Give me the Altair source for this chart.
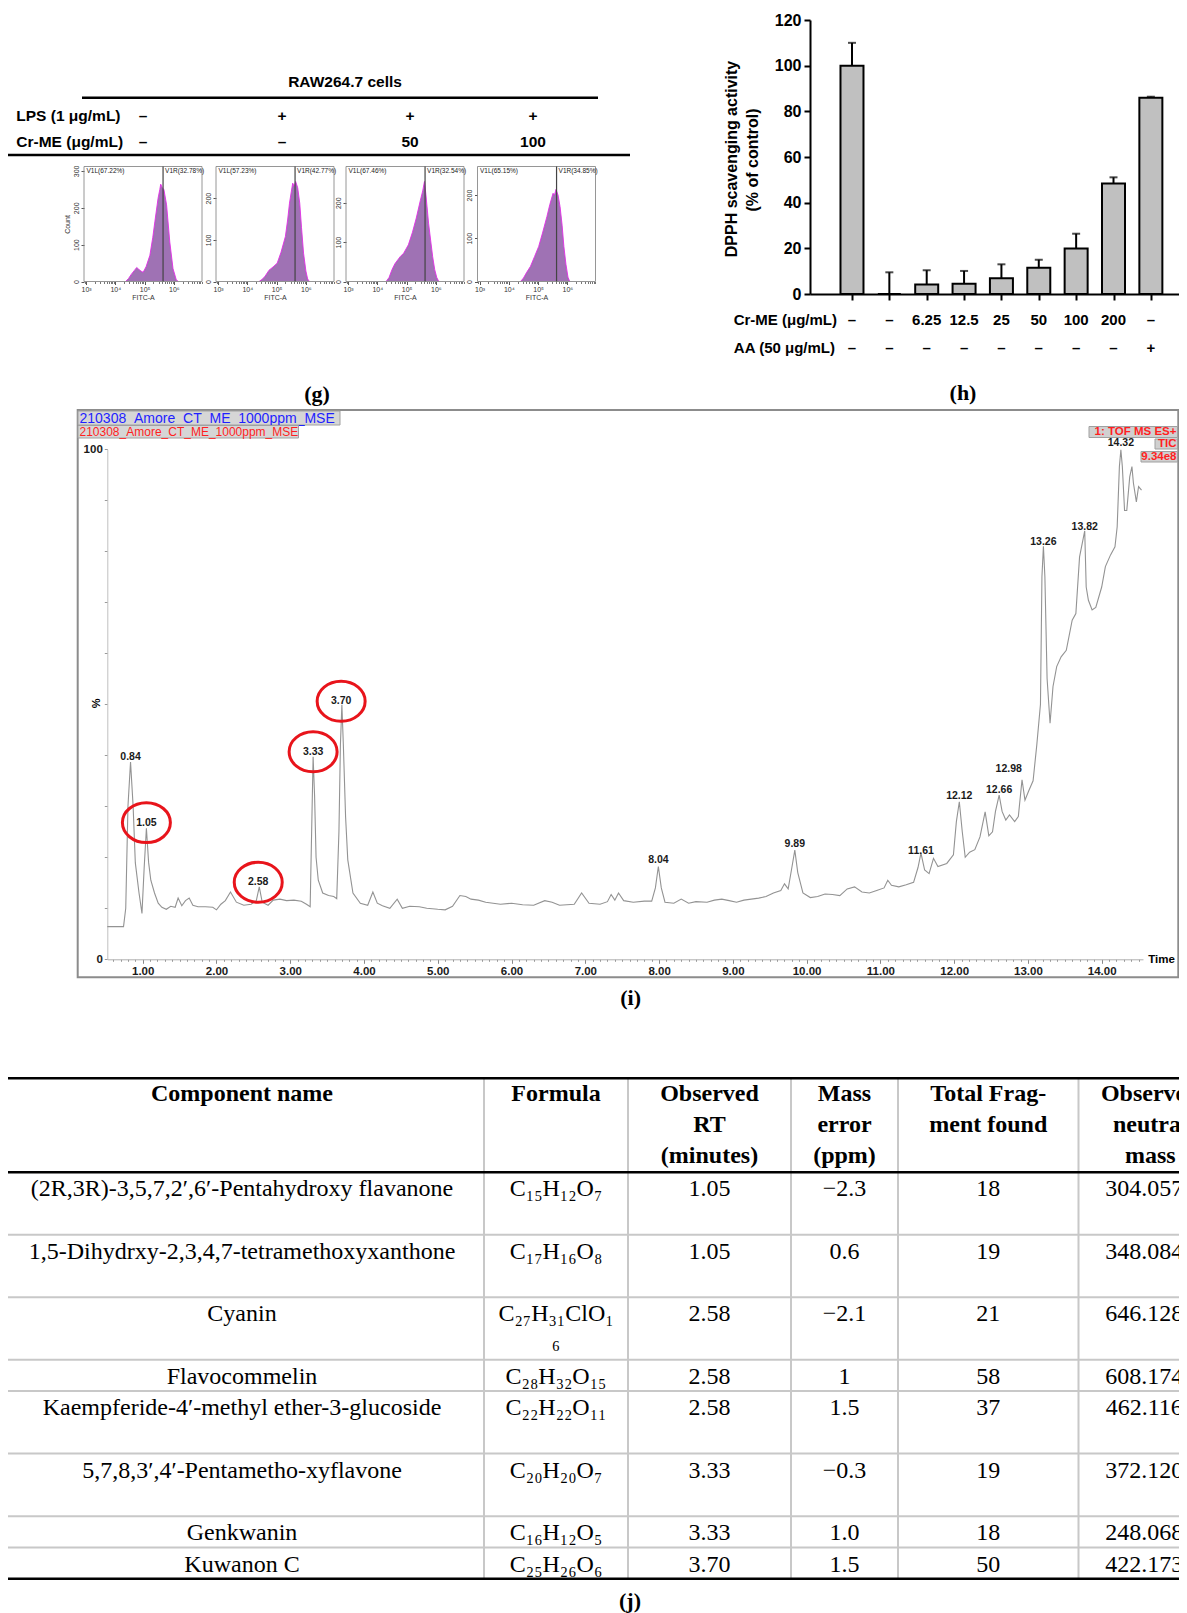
import altair as alt
import numpy as np
import pandas as pd

# ============================================================ DATA
# ---- (g) flow cytometry, RAW264.7 cells
g_header = "RAW264.7 cells"
g_lps_label = "LPS (1 μg/mL)"
g_crme_label = "Cr-ME (μg/mL)"
g_lps = ["–", "+", "+", "+"]
g_crme = ["–", "–", "50", "100"]
g_v1l = ["V1L(67.22%)", "V1L(57.23%)", "V1L(67.46%)", "V1L(65.15%)"]
g_v1r = ["V1R(32.78%)", "V1R(42.77%)", "V1R(32.54%)", "V1R(34.85%)"]
g_gate = 5.63  # log10 FITC-A
g1_log = [4.35, 4.45, 4.55, 4.65, 4.73, 4.80, 4.88, 4.95, 5.05, 5.18, 5.28,
          5.35, 5.46, 5.52, 5.55, 5.60, 5.66, 5.75, 5.86, 5.97, 6.08, 6.15]
g1_cnt = [0, 8, 20, 30, 38, 33, 28, 25, 40, 71, 120,
          162, 226, 250, 264, 255, 249, 208, 107, 35, 5, 0]
g2_log = [4.40, 4.50, 4.60, 4.74, 4.88, 5.02, 5.15, 5.30, 5.38, 5.44, 5.50,
          5.55, 5.60, 5.65, 5.72, 5.79, 5.85, 5.92, 6.00, 6.06, 6.12]
g2_cnt = [0, 5, 12, 27, 35, 44, 70, 108, 150, 188, 215,
          236, 228, 240, 225, 188, 130, 68, 25, 6, 0]
g3_log = [4.30, 4.40, 4.50, 4.60, 4.70, 4.78, 4.90, 5.06, 5.20, 5.33,
          5.47, 5.55, 5.61, 5.66, 5.75, 5.82, 5.89, 5.96, 6.03, 6.10]
g3_cnt = [0, 10, 30, 45, 55, 63, 72, 93, 125, 161,
          206, 230, 254, 220, 148, 105, 63, 30, 10, 0]
g4_log = [4.40, 4.50, 4.60, 4.74, 4.88, 5.02, 5.15, 5.30, 5.40, 5.51,
          5.56, 5.61, 5.68, 5.75, 5.82, 5.88, 5.95, 6.02, 6.08]
g4_cnt = [0, 8, 20, 35, 58, 81, 112, 150, 178, 204,
          200, 213, 200, 173, 130, 81, 40, 10, 0]
g_logs = [g1_log, g2_log, g3_log, g4_log]
g_cnts = [g1_cnt, g2_cnt, g3_cnt, g4_cnt]
g_ymax = [312, 276, 292, 266]
g_yticks = [[0, 100, 200, 300], [0, 100, 200], [0, 100, 200], [0, 100, 200]]

# ---- (h) DPPH scavenging activity
h_cr = ["–", "–", "6.25", "12.5", "25", "50", "100", "200", "–"]
h_aa = ["–", "–", "–", "–", "–", "–", "–", "–", "+"]
h_mean = [100.0, 0.0, 4.2, 4.5, 6.9, 11.5, 19.9, 48.4, 86.0]
h_sd = [10.0, 9.5, 6.2, 5.6, 6.1, 3.5, 6.5, 2.7, 0.4]
h_ytitle = ["DPPH scavenging activity", "(% of control)"]
h_row_titles = ["Cr-ME (μg/mL)", "AA (50 μg/mL)"]

# ---- (i) TIC chromatogram
i_time = [0.52, 0.74, 0.77, 0.80, 0.835, 0.87, 0.90, 0.95, 0.99, 1.02,
          1.05, 1.08, 1.11, 1.16, 1.21, 1.26, 1.32, 1.38, 1.44, 1.48,
          1.53, 1.58, 1.63, 1.68, 1.75, 1.85, 1.95, 2.00, 2.06, 2.12,
          2.19, 2.27, 2.37, 2.47, 2.54, 2.58, 2.62, 2.70, 2.77, 2.86,
          2.95, 3.05, 3.15, 3.22, 3.27, 3.29, 3.31, 3.33, 3.35, 3.38,
          3.44, 3.52, 3.59, 3.63, 3.66, 3.68, 3.70, 3.72, 3.75, 3.78,
          3.85, 3.95, 4.05, 4.12, 4.18, 4.25, 4.35, 4.45, 4.52, 4.62,
          4.75, 4.85, 5.00, 5.10, 5.20, 5.30, 5.38, 5.45, 5.55, 5.65,
          5.75, 5.85, 6.00, 6.15, 6.30, 6.45, 6.55, 6.65, 6.85, 6.95,
          7.05, 7.20, 7.30, 7.35, 7.40, 7.45, 7.52, 7.65, 7.80, 7.90,
          7.95, 7.99, 8.03, 8.08, 8.20, 8.30, 8.40, 8.50, 8.65, 8.75,
          8.85, 8.95, 9.05, 9.15, 9.25, 9.35, 9.45, 9.55, 9.65, 9.70,
          9.75, 9.80, 9.84, 9.88, 9.95, 10.05, 10.15, 10.25, 10.35, 10.45,
          10.55, 10.65, 10.75, 10.85, 10.95, 11.05, 11.10, 11.15, 11.25, 11.35,
          11.45, 11.51, 11.55, 11.60, 11.66, 11.72, 11.78, 11.90, 11.99, 12.03,
          12.07, 12.11, 12.15, 12.21, 12.28, 12.35, 12.42, 12.47, 12.52, 12.56,
          12.61, 12.65, 12.70, 12.75, 12.82, 12.87, 12.92, 12.96, 13.01, 13.07,
          13.12, 13.17, 13.19, 13.21, 13.23, 13.26, 13.30, 13.34, 13.39, 13.45,
          13.52, 13.60, 13.65, 13.70, 13.77, 13.79, 13.82, 13.87, 13.92, 14.00,
          14.05, 14.12, 14.18, 14.21, 14.24, 14.26, 14.28, 14.31, 14.34, 14.38,
          14.41, 14.43, 14.47, 14.50, 14.54]
i_pct = [6.4, 6.4, 10, 30, 38.7, 30, 18.9, 13, 9, 18,
         25.7, 19, 15.5, 13, 11, 10.2, 9.8, 10.4, 10.2, 12,
         10.5, 11.5, 12, 10.6, 10.3, 10.3, 10.2, 9.7, 10.8, 11.5,
         13.2, 11.2, 10.6, 10.8, 11.5, 14.2, 11.2, 10.6, 11.6, 11.8,
         11.5, 11.6, 11.4, 10.8, 10.3, 25, 39.7, 32, 20, 15.5,
         13, 12.5, 12.3, 11.9, 25, 42, 49.9, 42, 28, 19.5,
         13, 11, 10.6, 13.2, 11, 10.5, 10, 11.8, 10, 10.4,
         10.3, 10, 9.8, 9.7, 10.4, 12.5, 12.3, 11.8, 11.6, 11.2,
         11, 10.8, 11, 10.7, 10.6, 11.5, 11.2, 10.6, 10.8, 13,
         11, 10.8, 11.3, 12.7, 11.6, 13, 11.5, 11.2, 11.4, 11.4,
         14, 18.2, 14, 11.2, 11, 11.8, 11, 11.3, 11.2, 11.6,
         11.8, 11.5, 11.2, 11.6, 11.8, 12, 12.3, 13, 13.5, 14.8,
         13.8, 18, 21.4, 17, 13, 12.1, 12.3, 12.8, 12.7, 12.5,
         13.8, 14.2, 13.2, 13, 13.5, 14, 15.5, 14.5, 14.2, 14.6,
         15.1, 18, 20.8, 17.5, 16.8, 19.8, 18.2, 18.8, 20.5, 27,
         30.9, 25, 20, 21, 21.5, 24, 28.9, 24.2, 25, 29,
         32.2, 29, 27.3, 28.3, 27, 28, 35.2, 31.2, 33, 35,
         42, 50, 75, 81, 75, 55, 46.3, 53.5, 57.4, 59.3,
         60.6, 66.5, 67.8, 78.9, 84, 73, 70.4, 68.5, 69, 73,
         77, 79.3, 80.9, 84.8, 96.6, 99.9, 96.6, 88, 88, 94.6,
         96.6, 93.4, 89.7, 92.7, 92]
assert len(i_time) == len(i_pct)
i_peak_text = ["0.84", "1.05", "2.58", "3.33", "3.70", "8.04", "9.89", "11.61",
               "12.12", "12.66", "12.98", "13.26", "13.82", "14.32"]
i_peak_time = [0.835, 1.05, 2.566, 3.31, 3.69, 7.99, 9.84, 11.55,
               12.07, 12.61, 12.74, 13.21, 13.77, 14.26]
i_peak_pct = [39.6, 26.8, 15.1, 40.7, 50.6, 19.5, 22.6, 21.2,
              32.1, 33.1, 37.3, 81.9, 84.7, 101.2]
i_circled = ["1.05", "2.58", "3.33", "3.70"]
i_run = "210308_Amore_CT_ME_1000ppm_MSE"
i_info = ["1: TOF MS ES+", "TIC", "9.34e8"]

# ---- (j) table
t_header = [["Component name"], ["Formula"], ["Observed", "RT", "(minutes)"],
            ["Mass", "error", "(ppm)"], ["Total Frag-", "ment found"],
            ["Observed", "neutral", "mass"]]
t_name = ["(2R,3R)-3,5,7,2′,6′-Pentahydroxy flavanone",
          "1,5-Dihydrxy-2,3,4,7-tetramethoxyxanthone",
          "Cyanin", "Flavocommelin",
          "Kaempferide-4′-methyl ether-3-glucoside",
          "5,7,8,3′,4′-Pentametho-xyflavone", "Genkwanin", "Kuwanon C"]
t_formula = [["C₁₅H₁₂O₇"], ["C₁₇H₁₆O₈"], ["C₂₇H₃₁ClO₁", "₆"], ["C₂₈H₃₂O₁₅"],
             ["C₂₂H₂₂O₁₁"], ["C₂₀H₂₀O₇"], ["C₁₆H₁₂O₅"], ["C₂₅H₂₆O₆"]]
t_rt = ["1.05", "1.05", "2.58", "2.58", "2.58", "3.33", "3.33", "3.70"]
t_err = ["−2.3", "0.6", "−2.1", "1", "1.5", "−0.3", "1.0", "1.5"]
t_frag = ["18", "19", "21", "58", "37", "19", "18", "50"]
t_mass = ["304.0576", "348.0847", "646.1287", "608.1748", "462.1169",
          "372.1208", "248.0688", "422.1738"]
t_row_lines = [2, 2, 2, 1, 2, 2, 1, 1]

# ============================================================ LAYOUT
W, H = 1171, 1605
M = 8
SANS = "Liberation Sans"
SERIF = "Liberation Serif"


def X(p):
    return p - M


def Y(p):
    return p - M


ONE = pd.DataFrame({"k": [0]})


def ann(text, x, y, size, weight="normal", font=SANS, align="center",
        color="black", angle=0, baseline="middle"):
    return alt.Chart(ONE).mark_text(
        text=text, fontSize=size, fontWeight=weight, font=font, align=align,
        baseline=baseline, color=color, angle=angle
    ).encode(x=alt.value(X(x)), y=alt.value(Y(y)))


def hline(x1, x2, y, color="black", width=1.0):
    return alt.Chart(ONE).mark_rule(color=color, strokeWidth=width).encode(
        x=alt.value(X(x1)), x2=alt.value(X(x2)), y=alt.value(Y(y)))


def box(x1, y1, x2, y2, stroke="#888888", width=1.0, fill="transparent"):
    return alt.Chart(ONE).mark_rect(fill=fill, stroke=stroke, strokeWidth=width).encode(
        x=alt.value(X(x1)), x2=alt.value(X(x2)), y=alt.value(Y(y1)), y2=alt.value(Y(y2)))


layers = []

# ------------------------------------------------------------ (g) header
layers.append(ann(g_header, 345, 81.5, 15.5, "bold"))
layers.append(hline(82, 598, 97.7, width=2.5))
layers.append(ann(g_lps_label, 16.3, 116, 15.5, "bold", align="left"))
layers.append(ann(g_crme_label, 16.3, 141.7, 15.5, "bold", align="left"))
G_COLX = [143, 282, 410, 533]
for k in range(4):
    layers.append(ann(g_lps[k], G_COLX[k], 116, 15.5, "bold"))
    layers.append(ann(g_crme[k], G_COLX[k], 141.7, 15.5, "bold"))
layers.append(hline(6, 630, 155, width=2.5))

# ------------------------------------------------------------ (g) histograms
FLOW_LEFT = [84, 216, 346, 477.5]
FLOW_W = 118
FLOW_TOP, FLOW_BOT = 166.5, 281.5
LOG_DOM = [2.93, 6.96]
minor_log = [float(np.log10(k * 10.0 ** d)) for d in range(2, 7) for k in range(2, 10)]
minor_log = [v for v in minor_log if LOG_DOM[0] < v < LOG_DOM[1]]
sup = "datum.value == 3 ? '10³' : datum.value == 4 ? '10⁴' : datum.value == 5 ? '10⁵' : '10⁶'"

for i in range(4):
    L = FLOW_LEFT[i]
    R = L + FLOW_W
    xs = alt.Scale(domain=LOG_DOM, range=[X(L), X(R)], nice=False, zero=False)
    ys = alt.Scale(domain=[0, g_ymax[i]], range=[Y(FLOW_BOT), Y(FLOW_TOP)], nice=False)
    df = pd.DataFrame({"lx": g_logs[i], "c": g_cnts[i]})
    xa = alt.Axis(orient="bottom", offset=Y(FLOW_BOT) - H, values=[3, 4, 5, 6],
                  labelExpr=sup, labelFont=SANS, labelFontSize=7, labelColor="#333333",
                  tickSize=3, tickColor="#555555", domain=False, labelPadding=1,
                  title="FITC-A", titleFont=SANS, titleFontSize=7, titleFontWeight="normal",
                  titleColor="#333333", titlePadding=1)
    ykw = dict(orient="left", offset=-X(L), values=g_yticks[i], labelAngle=270,
               labelAlign="center", labelBaseline="bottom", labelFont=SANS,
               labelFontSize=7, labelColor="#333333", tickSize=3, tickColor="#555555",
               domain=False, labelPadding=2)
    if i == 0:
        ykw.update(title="Count", titleFont=SANS, titleFontSize=7, titleFontWeight="normal",
                   titleColor="#333333", titlePadding=2)
    else:
        ykw.update(title="")
    ya = alt.Axis(**ykw)
    area = alt.Chart(df).mark_area(color="#9f72b4", opacity=1).encode(
        x=alt.X("lx:Q", scale=xs, axis=xa), y=alt.Y("c:Q", scale=ys, axis=ya))
    outline = alt.Chart(df).mark_line(color="#e22de6", strokeWidth=0.9).encode(
        x=alt.X("lx:Q", scale=xs,
                axis=alt.Axis(orient="bottom", offset=Y(FLOW_BOT) - H, values=minor_log,
                              labels=False, tickSize=2, tickColor="#777777", domain=False,
                              title="")),
        y=alt.Y("c:Q", scale=ys, axis=None))
    frame = box(L, FLOW_TOP, R, FLOW_BOT, stroke="#8a8a8a", width=0.9)
    gdf = pd.DataFrame({"g": [g_gate], "t": [g_v1r[i]]})
    gate = alt.Chart(gdf).mark_rule(color="#444444", strokeWidth=1.2).encode(
        x=alt.X("g:Q", scale=xs, axis=None), y=alt.value(Y(FLOW_TOP)), y2=alt.value(Y(FLOW_BOT)))
    v1r = alt.Chart(gdf).mark_text(align="left", dx=2, fontSize=6.5, font=SANS,
                                   color="#222222", baseline="middle").encode(
        x=alt.X("g:Q", scale=xs, axis=None), y=alt.value(Y(170.5)), text="t:N")
    v1l = ann(g_v1l[i], L + 2.5, 170.5, 6.5, align="left", color="#222222")
    layers.append(alt.layer(area, outline, frame, gate, v1r, v1l)
                  .resolve_axis(x="independent", y="independent"))

layers.append(ann("(g)", 317, 394, 22, "bold", font=SERIF))

# ------------------------------------------------------------ (h) DPPH
dfh = pd.DataFrame({"i": list(range(9)), "cr": h_cr, "aa": h_aa, "m": h_mean, "sd": h_sd})
dfh["hi"] = dfh["m"] + dfh["sd"]
hx = alt.Scale(domain=[-0.99, 8.78], range=[X(810), X(1185)], nice=False, zero=False)
hy = alt.Scale(domain=[0, 120], range=[Y(294), Y(20)], nice=False)
h_bars = alt.Chart(dfh).mark_bar(size=23, fill="#c0c0c0", stroke="black", strokeWidth=2).encode(
    x=alt.X("i:Q", scale=hx,
            axis=alt.Axis(orient="bottom", offset=Y(294) - H, values=list(range(9)),
                          labels=False, tickSize=6, tickWidth=2, tickColor="black",
                          domainColor="black", domainWidth=2, title="")),
    y=alt.Y("m:Q", scale=hy,
            axis=alt.Axis(orient="left", offset=-X(810), values=[0, 20, 40, 60, 80, 100, 120],
                          tickSize=6, tickWidth=2, tickColor="black", domainColor="black",
                          domainWidth=2, labelFont=SANS, labelFontSize=16,
                          labelFontWeight="bold", labelColor="black", labelPadding=3,
                          title="")))
h_err = alt.Chart(dfh).mark_rule(color="black", strokeWidth=2).encode(
    x=alt.X("i:Q", scale=hx, axis=None), y=alt.Y("m:Q", scale=hy, axis=None), y2="hi:Q")
h_cap = alt.Chart(dfh).mark_tick(orient="horizontal", size=8, thickness=2, color="black").encode(
    x=alt.X("i:Q", scale=hx, axis=None), y=alt.Y("hi:Q", scale=hy, axis=None))
h_lab1 = alt.Chart(dfh).mark_text(fontSize=15, fontWeight="bold", font=SANS, baseline="middle").encode(
    x=alt.X("i:Q", scale=hx, axis=None), y=alt.value(Y(320)), text="cr:N")
h_lab2 = alt.Chart(dfh).mark_text(fontSize=15, fontWeight="bold", font=SANS, baseline="middle").encode(
    x=alt.X("i:Q", scale=hx, axis=None), y=alt.value(Y(348.3)), text="aa:N")
layers.append(alt.layer(h_bars, h_err, h_cap, h_lab1, h_lab2)
              .resolve_axis(x="independent", y="independent"))
layers.append(ann(h_row_titles[0], 837, 320, 15, "bold", align="right"))
layers.append(ann(h_row_titles[1], 835, 348.3, 15, "bold", align="right"))
layers.append(ann(h_ytitle[0], 732, 159, 16, "bold", angle=270))
layers.append(ann(h_ytitle[1], 753, 160, 16, "bold", angle=270))
layers.append(ann("(h)", 963, 393, 22, "bold", font=SERIF))

# ------------------------------------------------------------ (i) chromatogram
layers.append(box(77.7, 410, 1178.3, 977.3, stroke="#8c8c8c", width=2))
layers.append(box(78, 411, 340, 425, stroke="#a0a0a0", width=1, fill="#d6d6d6"))
layers.append(ann(i_run, 79.5, 418.5, 14, color="#1f1fff", align="left"))
layers.append(box(78, 425.5, 298.5, 438, stroke="#a0a0a0", width=1, fill="#d6d6d6"))
layers.append(ann(i_run, 79.5, 432, 12, color="#ff1f1f", align="left"))
layers.append(box(1089, 426.5, 1177.5, 437.5, stroke="#a0a0a0", width=1, fill="#d0d0d0"))
layers.append(ann(i_info[0], 1176.5, 432.3, 11.5, "bold", color="#ff1f1f", align="right"))
layers.append(box(1155, 439, 1177.5, 449, stroke="#a0a0a0", width=1, fill="#d0d0d0"))
layers.append(ann(i_info[1], 1176.5, 444.3, 11.5, "bold", color="#ff1f1f", align="right"))
layers.append(box(1141, 451.5, 1177.5, 462, stroke="#a0a0a0", width=1, fill="#d0d0d0"))
layers.append(ann(i_info[2], 1176.5, 457, 11.5, "bold", color="#ff1f1f", align="right"))

ix = alt.Scale(domain=[0.52, 14.56], range=[X(107.3), X(1143.0)], nice=False, zero=False)
iy = alt.Scale(domain=[0, 100], range=[Y(959.3), Y(449.3)], nice=False)
dft = pd.DataFrame({"t": i_time, "p": i_pct})
minor_t = [round(0.6 + 0.1 * k, 1) for k in range(140)]
minor_t = [v for v in minor_t if v <= 14.5 and abs(v - round(v)) > 1e-6]
i_trace = alt.Chart(dft).mark_line(color="#939393", strokeWidth=1.1).encode(
    x=alt.X("t:Q", scale=ix,
            axis=alt.Axis(orient="bottom", offset=Y(959.3) - H, values=list(range(1, 15)),
                          format=".2f", labelFont=SANS, labelFontSize=11.5,
                          labelFontWeight="bold", labelColor="#1a1a1a", tickSize=4,
                          tickColor="#8a8a8a", domainColor="#b0b0b0", labelPadding=2,
                          title="")),
    y=alt.Y("p:Q", scale=iy,
            axis=alt.Axis(orient="left", offset=-X(107.3), values=list(range(0, 101, 10)),
                          labelExpr="datum.value == 100 ? '100' : datum.value == 0 ? '0' : ''",
                          labelFont=SANS, labelFontSize=11.5, labelFontWeight="bold",
                          labelColor="#1a1a1a", tickSize=3, tickColor="#9a9a9a",
                          domainColor="#c0c0c0", labelPadding=2, title="")))
i_minor = alt.Chart(dft).mark_line(opacity=0).encode(
    x=alt.X("t:Q", scale=ix,
            axis=alt.Axis(orient="bottom", offset=Y(959.3) - H, values=minor_t, labels=False,
                          tickSize=2, tickColor="#9a9a9a", domain=False, title="")),
    y=alt.Y("p:Q", scale=iy, axis=None))
dfl = pd.DataFrame({"lab": i_peak_text, "t": i_peak_time, "p": i_peak_pct})
i_labels = alt.Chart(dfl).mark_text(fontSize=10.5, fontWeight="bold", font=SANS,
                                    color="#1a1a1a", baseline="middle").encode(
    x=alt.X("t:Q", scale=ix, axis=None), y=alt.Y("p:Q", scale=iy, axis=None), text="lab:N")
ELLIPSE = "M-1,0A1,0.833,0,1,1,1,0A1,0.833,0,1,1,-1,0Z"
i_circles = alt.Chart(dfl[dfl["lab"].isin(i_circled)]).mark_point(
    shape=ELLIPSE, size=2304, filled=False, color="#e8141b", strokeWidth=3, opacity=1).encode(
    x=alt.X("t:Q", scale=ix, axis=None), y=alt.Y("p:Q", scale=iy, axis=None))
layers.append(alt.layer(i_trace, i_minor, i_labels, i_circles)
              .resolve_axis(x="independent", y="independent"))
layers.append(ann("%", 96.8, 703.3, 11, "bold", angle=270))
layers.append(ann("Time", 1161.6, 960, 11.5, "bold"))
layers.append(ann("(i)", 630.6, 998.3, 22, "bold", font=SERIF))

# ------------------------------------------------------------ (j) table
COL_EDGES = [0, 484, 628, 791, 898, 1078.5, 1222]
tx = alt.Scale(domain=list(range(7)), range=[X(e) for e in COL_EDGES], nice=False, zero=False)
n_slots = 3 + sum(t_row_lines)
ty = alt.Scale(domain=[0, n_slots], range=[Y(1078.3), Y(1578.7)], nice=False, zero=False)

hdr_rows = []
for c, lines in enumerate(t_header):
    for j, s in enumerate(lines):
        hdr_rows.append({"xc": c + 0.5, "s": 0.5 + j, "t": s})
body_rows = []
bounds = [0, 3]
start = 3
for r in range(len(t_name)):
    cells = [[t_name[r]], t_formula[r], [t_rt[r]], [t_err[r]], [t_frag[r]], [t_mass[r]]]
    for c, lines in enumerate(cells):
        for j, s in enumerate(lines):
            body_rows.append({"xc": c + 0.5, "s": start + 0.55 + 0.78 * j, "t": s})
    start += t_row_lines[r]
    bounds.append(start)
thick = [0, 3, n_slots]
gray = [b for b in bounds if b not in thick]

t_vlines = alt.Chart(pd.DataFrame({"c": [1, 2, 3, 4, 5], "s0": 0, "s1": n_slots})).mark_rule(
    color="#c8c8c8", strokeWidth=2).encode(
    x=alt.X("c:Q", scale=tx, axis=None), y=alt.Y("s0:Q", scale=ty, axis=None), y2="s1:Q")
t_glines = alt.Chart(pd.DataFrame({"s": gray})).mark_rule(color="#c8c8c8", strokeWidth=2).encode(
    y=alt.Y("s:Q", scale=ty, axis=None), x=alt.value(0), x2=alt.value(W))
t_blines = alt.Chart(pd.DataFrame({"s": thick})).mark_rule(color="black", strokeWidth=2.5).encode(
    y=alt.Y("s:Q", scale=ty, axis=None), x=alt.value(0), x2=alt.value(W))
t_hdr = alt.Chart(pd.DataFrame(hdr_rows)).mark_text(
    font=SERIF, fontSize=24, fontWeight="bold", color="black", baseline="middle").encode(
    x=alt.X("xc:Q", scale=tx, axis=None), y=alt.Y("s:Q", scale=ty, axis=None), text="t:N")
t_body = alt.Chart(pd.DataFrame(body_rows)).mark_text(
    font=SERIF, fontSize=24, color="black", baseline="middle").encode(
    x=alt.X("xc:Q", scale=tx, axis=None), y=alt.Y("s:Q", scale=ty, axis=None), text="t:N")
layers.append(alt.layer(t_vlines, t_glines, t_blines, t_hdr, t_body)
              .resolve_axis(x="independent", y="independent"))
layers.append(ann("(j)", 630, 1600.5, 22, "bold", font=SERIF))

# ============================================================ COMPOSE
chart = alt.layer(*layers).resolve_scale(x="independent", y="independent").resolve_axis(
    x="independent", y="independent").properties(
    width=W, height=H, padding=0, autosize=alt.AutoSizeParams(type="none")
).configure_view(strokeWidth=0).configure_axis(grid=False)

chart.save("out.html", embed_options={"renderer": "svg", "actions": False})
